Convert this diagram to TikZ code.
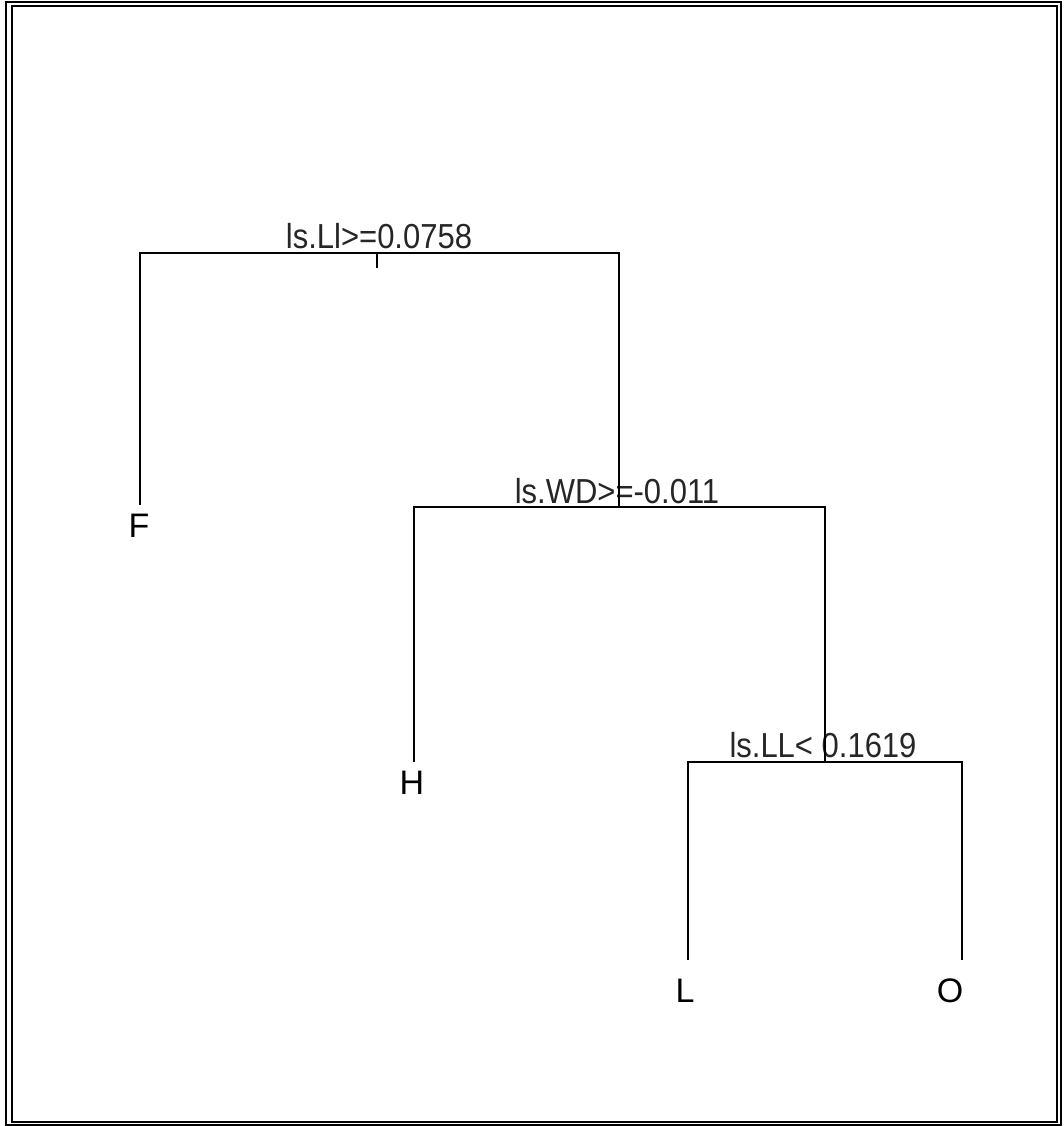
\documentclass[tikz,border=0pt]{standalone}
\usepackage{fontspec}
\setmainfont{Liberation Sans}
\begin{document}
\begin{tikzpicture}[x=1pt,y=-1pt,
  edge/.style={line width=1.8pt,black},
  frame/.style={line width=2pt,black},
  splitlab/.style={font=\fontsize{31}{31}\selectfont,inner sep=0pt,anchor=base,text=black!85},
  leaflab/.style={font=\fontsize{34}{34}\selectfont,inner sep=0pt,anchor=base}]
\useasboundingbox (0,0) rectangle (1063,1126);
\fill[white] (0,0) rectangle (1063,1126);
% frame
\draw[frame] (6,2) rectangle (1061,1125);
\draw[frame] (12,6.5) rectangle (1057,1121.5);
% junction coordinates
\coordinate (r) at (377,253);
\coordinate (rtop) at (377,268);
\coordinate (rl) at (140,253);
\coordinate (rr) at (619,253);
\coordinate (s2l) at (414,507);
\coordinate (s2r) at (825,507);
\coordinate (s2) at (619,507);
\coordinate (s3l) at (688,762);
\coordinate (s3r) at (962,762);
\coordinate (s3) at (825,762);
\coordinate (fEnd) at (140,505);
\coordinate (hEnd) at (414,762);
\coordinate (lEnd) at (688,960);
\coordinate (oEnd) at (962,960);
% labels
\node[splitlab] (lab1) at (379,248) {\scalebox{1}[1.12]{ls.Ll>=0.0758}};
\node[splitlab] (lab2) at (617,503) {\scalebox{1}[1.12]{ls.WD>=-0.011}};
\node[splitlab] (lab3) at (823,757) {\scalebox{1}[1.12]{ls.LL<\ 0.1619}};
\node[leaflab] (F) at (139,537) {F};
\node[leaflab] (H) at (412,794) {H};
\node[leaflab] (L) at (685,1002) {L};
\node[leaflab] (O) at (950,1002) {O};
% connectors
\draw[edge] (r) -- (rtop);
\draw[edge] (fEnd) -- (rl) -- (rr) -- (s2);
\draw[edge] (hEnd) -- (s2l) -- (s2r) -- (s3);
\draw[edge] (lEnd) -- (s3l) -- (s3r) -- (oEnd);
\end{tikzpicture}
\end{document}
